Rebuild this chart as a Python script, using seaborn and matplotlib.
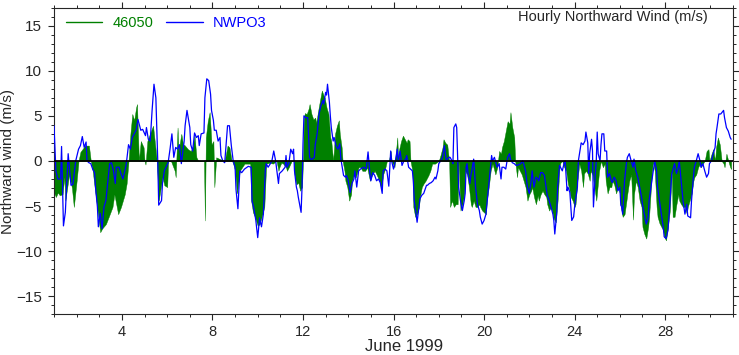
import numpy as np
import pandas as pd
import matplotlib
matplotlib.use("Agg")
import matplotlib.pyplot as plt
from matplotlib.ticker import MultipleLocator
import seaborn as sns

# hours since 1 June 1999 00:00 and northward wind (m/s)
nwpo3_hours = [0, 2, 4, 7, 8, 10, 12, 15, 18, 20, 23, 26, 28, 30, 32, 34, 35, 37, 39, 41, 43, 44, 46, 47, 49, 51, 53, 55, 59, 61,
               63, 65, 66, 69, 71, 73, 76, 77, 79, 81, 83, 87, 89, 92, 94, 97, 98, 100, 102, 104, 106, 108, 110, 111, 114, 115,
               117, 121, 123, 125, 127, 129, 131, 133, 135, 138, 139, 141, 144, 145, 147, 149, 151, 153, 154, 156, 159, 160, 162,
               164, 166, 167, 169, 170, 172, 174, 176, 177, 179, 181, 183, 184, 186, 188, 190, 192, 193, 195, 197, 199, 202, 206,
               209, 210, 212, 214, 216, 218, 220, 222, 224, 225, 227, 230, 231, 233, 235, 238, 239, 242, 245,
               246, 247, 249, 251, 253, 254, 255, 257, 258, 259, 261, 262, 263, 264, 265, 267, 269, 270, 271, 272, 274, 276, 277,
               279, 281, 283, 285, 286, 288, 289, 290, 292, 293, 294, 296, 297, 299, 301, 303, 304, 305, 307, 309, 310, 312, 314,
               316, 318, 319, 321, 323, 325, 328, 331, 333, 335, 336, 338, 340, 342, 344, 346, 348, 349, 351, 353, 355, 357, 358,
               360, 362,
               364, 365, 367, 369, 371, 373, 374, 376, 378, 380, 381, 382, 384, 385, 387, 388, 390, 392, 395, 396, 398, 400, 402,
               404, 405, 407, 408, 410, 412, 413, 414, 416, 417, 419, 420, 422, 423, 424, 426, 427, 428, 429, 431, 433, 435, 436,
               437, 438, 439, 441, 442, 443, 445, 446, 447, 449, 451, 452, 454, 456, 458, 459, 461, 463, 464, 465, 467, 468, 470,
               472, 474, 475, 477, 479, 481, 483, 484, 486,
               488, 490, 491, 493, 495, 497, 498, 500, 502, 504, 506, 507, 509, 511, 513, 514, 516, 518, 520, 522, 523, 525, 527,
               529, 530, 531, 533, 534, 536, 537, 539, 541, 542, 544, 545, 547, 549, 551, 552, 555, 556, 558, 559, 561, 563, 564,
               566, 567, 568, 570, 571, 572, 574, 575, 576, 577, 579, 580, 581, 583, 584, 586, 587, 589, 591, 592, 594, 596, 598,
               600, 601, 602, 603, 605, 607, 608, 610, 612,
               614, 615, 617, 619, 621, 623, 624, 626, 628, 630, 631, 633, 635, 637, 639, 640, 642, 644, 646, 647, 649, 651, 653,
               655, 656, 658, 660, 662, 663, 665, 667, 669, 671, 672, 675, 676, 678, 679, 681, 683, 685, 686, 688, 690, 692, 694,
               695, 697, 699, 701, 702, 703, 705, 707, 710, 711, 713, 715, 717, 718]
nwpo3_wind = [3.9, -1.1, -2.0, -2.0, 1.6, -7.2, -5.7, 0.8, -2.7, -2.6, 0.0, 1.3, 1.7, 2.7, 1.5, 2.1, 0.0, -0.2, -0.3, -0.9, -1.3,
              -2.9, -5.1, -7.3, -5.8, -7.5, -5.1, -4.4, -0.3, -0.2, -1.1, -2.5, -0.7, -0.7, -1.4, -2.0, -0.7, 0.0, 1.8, 1.3, 2.6,
              3.4, 4.6, 3.4, 3.5, 2.8, 3.7, 2.4, 2.2, 5.6, 8.5, 7.0, 0.0, -4.9, -4.4, -2.5,
              -1.1, -0.2, 1.3, 3.0, 0.4, 1.5, 1.3, 1.8, -0.3, 2.2, 3.9, 5.6, 3.7, 1.8, 1.1, 3.1, 2.6, 2.8, 1.7, 3.0, 3.1, 7.0,
              9.1, 8.9, 7.4, 5.6, 4.5, 3.4, 3.4, 2.2, 2.6, 0.6, 0.0, -0.2, 2.6, 3.9, 3.9, 1.7, 0.0, -0.7, -3.2, -5.3, -1.1, -1.3,
              -0.9, -0.6, -0.7, -4.4, -5.3, -6.6, -8.5, -6.3, -7.3, -5.9, -1.1, -0.3, -0.7, -0.2, 0.0, 1.1, 0.0, -2.5, -1.4, -1.1,
              -0.7,
              0.6, -0.7, -0.3, 1.3, 0.8, 1.3, -1.1, -2.9, -3.3, -4.0, -5.1, -5.7, -2.9, 1.8, 5.0, 4.8, 4.8, 2.6, 0.4, 0.2, 0.2,
              0.4, 1.8, 3.0, 5.2, 6.1, 6.7, 6.3, 7.6, 7.3, 8.5, 6.5, 5.0, 3.7, 2.2, 2.6, 1.7, 1.3, 1.9, 0.4, -0.3, -1.6, -1.8,
              -1.6, -2.2, -3.5, -2.5, -2.0, -1.1, -2.9, -1.1, -0.9, -0.7, -0.9, 1.0, -1.4, -2.2, -1.3, -1.6, -2.2, -2.0, -2.4,
              -3.6, -1.1, -0.9, -1.1, -2.8, 1.1, 0.0, -0.9, 0.0,
              1.3, 0.0, 1.1, -0.5, 0.0, 0.2, 0.6, -0.7, -0.9, -1.1, -2.2, -4.4, -5.9, -6.8, -5.1, -4.2, -3.8, -3.6, -2.7, -2.7,
              -2.5, -2.4, -2.2, -1.8, -2.0, -1.1, -0.3, 0.0, 0.4, 1.1, 1.7, 0.0, 0.2, 0.4, 0.4, 0.0, -0.3, 3.7, 4.1, 3.7, 0.4,
              -2.9, -4.4, -5.5, -4.4, -3.6, -0.7, -0.3, -1.4, -2.5, -1.6, -1.1, 0.2, -1.4, -2.9, -4.8, -5.5, -6.2, -7.0, -6.6,
              -5.9, -4.8, -2.5, -0.3, 0.6, 0.0, 0.4, 0.0, -0.7, -0.3, -2.0, -0.7, -0.7, -0.9, 0.4, 0.8, 0.2, -0.2,
              -0.3, -0.5, -0.5, -0.4, -0.3, 0.0, -0.3, -1.1, -2.9, -3.6, -2.2, -1.1, -2.9, -1.8, -2.0, -2.2, -1.3, -1.3, -1.6,
              -3.1, -3.8, -4.4, -5.1, -5.9, -6.6, -8.1, -5.9, -2.9, -0.5, -0.7, -1.1, -0.2, 0.0, -3.3, -2.9, -3.5, -6.6, -6.2,
              -5.1, -2.9, 0.0, 1.3, 2.0, 1.8, 2.2, 3.2, 2.0, -1.4, 0.8, 2.4, 1.1, -5.1, -1.4, 0.0, 3.2, 0.8, 0.0, 1.8, 3.0, 3.0,
              1.1, 1.1, -1.8, -1.4, -2.2, -2.4, -1.8, -2.2, -3.3, -2.9, -4.9, -5.1, -5.9, -2.2, -0.2, 0.4, 0.8, 0.0,
              -0.7, 0.2, -1.1, -1.8, -2.9, -4.0, -4.8, -5.9, -7.0, -6.3, -4.4, -2.9, -1.4, 0.0, -1.1, -2.9, -4.4, -5.9, -7.3,
              -8.4, -8.6, -7.7, -4.8, -1.4, -1.1, -0.3, -1.4, -0.7, 0.0, -2.2, -4.4, -5.9, -4.8, -6.1, -6.3, -4.4, -1.8, -0.7,
              0.0, 0.8, 0.0, -0.7, -0.3, -1.1, -1.8, -1.4, -0.3, 0.0, 0.8, 1.5, 3.0, 3.7, 5.2, 5.2, 5.6, 4.8, 3.7, 3.3, 2.6, 2.4]

b46050_hours = [0, 2, 4, 6, 9, 11, 12, 16, 19, 21, 24, 26, 28, 33, 37, 39, 41, 44, 47, 49, 51, 55, 58, 62, 64, 68, 71, 75, 77,
                79, 81, 83, 85, 87, 88, 90, 92, 95, 96, 97, 99, 102, 105, 107, 109, 111, 115,
                117, 120, 121, 124, 128, 129, 131, 132, 135, 137, 138, 142, 145, 147, 149, 151, 153, 157, 159, 160, 161, 163,
                165, 166, 167, 169, 170, 172, 176, 181, 184, 186, 188, 190, 192, 194, 197, 202, 208, 209, 211, 213, 216, 218,
                221, 223, 225, 229, 232, 236, 238, 239, 241, 243,
                246, 247, 249, 252, 254, 255, 257, 259, 261, 263, 264, 265, 266, 268, 270, 271, 273, 275, 277, 278, 280, 282,
                284, 286, 287, 289, 291, 293, 294, 296, 298, 300, 302, 303, 305, 306, 308, 309, 311, 313, 315, 316, 318, 320,
                323, 325, 327, 330, 332, 335, 337, 340, 342, 345, 347, 349, 351, 353, 355, 357, 358, 361,
                364, 365, 366, 368, 370, 372, 374, 375, 377, 378, 380, 381, 383, 385, 387, 388, 390, 392, 394, 396, 397, 399,
                401, 404, 408, 410, 412, 413, 415, 417, 418, 419, 420, 422, 424, 426, 428, 429, 431, 433, 435, 436, 438, 440,
                442, 443, 445, 447, 449, 451, 452, 454, 456, 458, 459, 461, 463, 465, 467, 468, 470, 472, 474, 475, 477, 479,
                481, 483, 484,
                486, 488, 489, 491, 492, 494, 496, 498, 500, 502, 504, 506, 507, 509, 511, 513, 514, 516, 518, 520, 522, 523,
                525, 527, 529, 530, 532, 534, 536, 537, 539, 541, 543, 545, 546, 548, 550, 552, 553, 555, 557, 559, 561, 562,
                564, 566, 568, 569, 571, 573, 575, 577, 578, 580, 582, 584, 585, 587, 589, 591, 592, 594, 596, 598, 600, 601,
                603, 605, 607, 608, 610, 612,
                614, 615, 617, 619, 621, 623, 624, 626, 628, 630, 631, 633, 635, 637, 639, 640, 642, 644, 646, 647, 649, 651,
                653, 655, 656, 658, 660, 662, 663, 665, 667, 669, 671, 672, 674, 676, 678, 679, 681, 683, 685, 686, 688, 690,
                692, 694, 695, 697, 699, 701, 702, 704, 706, 708, 710, 711, 713, 715, 717, 718]
b46050_wind = [-3.5, -4.0, -3.5, -3.8, -3.7, -1.8, -4.4, -1.5, -3.0, -5.1, -2.2, 0.0, 1.0, 1.7, 1.7, 0.0, -1.1, -3.7, -6.2, -7.9,
               -7.5, -7.0, -6.2, -5.1, -3.7, -5.9, -5.1, -3.7, -2.5, 0.0, 3.0, 5.2, 4.5, 5.9, 6.3, 0.0, 2.2, 1.5, 0.0, -0.4, 2.2,
               3.1, 3.9, 2.0, 0.0, -4.4, -1.8,
               -2.7, -2.9, 0.0, 0.0, -1.1, -1.8, 3.7, 1.1, 3.0, 1.7, 1.8, 1.3, 1.1, 1.5, 2.8, 0.4, 0.0, 0.0, 0.0, -6.6, 2.6, 4.4,
               5.4, 3.7, 1.8, 2.2, -2.9, 0.4, 0.2, 0.0, 1.7, 1.5, 0.2, -0.3, -1.1, -3.6, -1.1, -0.3, -0.3, -4.4, -5.7, -6.2, -7.2,
               -7.0, -5.9, -5.1, -0.3, -0.2, -0.3, 0.0, -1.1, -0.7, -0.2, -0.3,
               -0.7, -1.1, -0.7, 0.0, 0.0, -1.5, -2.6, -2.4, -3.3, -2.9, 0.0, 4.8, 5.3, 5.2, 5.8, 6.3, 5.2, 4.6, 4.8, 4.2, 5.5,
               6.7, 7.8, 7.2, 7.0, 5.9, 5.2, 2.6, 2.2, 0.0, 3.0, 3.9, 4.5, 3.0, 1.5, 0.0, -1.1, -2.2, -2.9, -4.4, -3.7, -2.2,
               -1.5, -1.8, -0.7, -0.7, -1.1, -1.1, -0.7, -2.2, -1.6, -1.1, -1.5, -2.2, -3.1, -1.5, -0.9, 0.0, 0.0, 1.1, 0.0, -0.7,
               2.6, 0.0, 1.3, 2.2, 2.8, 2.4, 2.0, 2.4, 2.2, 0.0, -1.1, -5.1, -6.2, -5.9, -5.1, -4.0, -2.9, -2.5, -2.2, -1.8, -1.6,
               -1.1, -0.3, -0.3, 0.0, 0.7, 1.5, 2.4, 2.0, 1.8, 0.8, 0.0, -5.1, -4.4, -5.1, -4.8, -4.8, 0.0, -5.5, -4.8, -3.7,
               -1.1, -1.5, -2.9, -4.8, -5.1, -4.4, -5.1, -5.1, -4.8, -5.1, -5.5, -5.7, -5.9, -4.4, -2.9, -1.1, -0.3, -1.1, -1.5,
               -0.7, 1.1, 0.8, 1.5, 2.2, 3.3, 4.4, 4.1, 5.4,
               3.7, 2.6, 0.0, -1.8, -0.7, -1.1, -1.5, -2.2, -2.9, -4.4, -3.7, -3.3, -2.9, -4.0, -4.8, -3.8, -4.4, -3.7, -3.3,
               -3.7, -4.0, -4.8, -5.5, -5.1, -5.9, -6.4, -6.8, -4.4, -0.7, -0.2, 0.0, -0.7, -1.1, -2.6, -2.9, -4.0, -4.4, -5.1,
               -4.8, -2.2, -0.3, -1.1, -2.9, -1.4, -1.1, -1.4, -2.2, -1.1, -1.5, -2.9, -4.4, -2.2, -1.1, 0.0, -0.7, -0.3, -2.2,
               -3.6, -2.9, -2.9, -2.2, -2.6, -3.6, -2.9, -3.6, -5.1, -6.2, -5.9, -4.4, -3.6, -2.2, -1.5,
               -6.5, -3.7, -2.2, -2.9, -4.4, -5.1, -7.3, -8.1, -8.6, -7.3, -6.2, -2.9, 0.0, -1.1, -5.1, -6.2, -6.9, -7.3, -7.7,
               -8.4, -8.8, -7.3, -5.5, -1.1, -6.2, -6.2, -4.8, -3.7, -4.4, -4.8, -5.1, -5.1, -5.9, -5.1, -4.4, -3.7, -2.2, -1.8,
               -1.5, -0.7, -0.3, -0.7, -0.3, 0.0, 1.1, 1.3, 0.0, 0.7, 1.3, 0.0, 1.5, 2.6, 1.8, 0.0, -0.3, -0.7, 0.8, 0.0, -0.7,
               -0.9]

series_names = ["46050", "NWPO3"]
series_colors = ["#008000", "#0000ff"]
day_ticks = [4, 8, 12, 16, 20, 24, 28]
wind_ticks = [-15, -10, -5, 0, 5, 10, 15]

nwpo3 = pd.DataFrame({"day": 1 + np.array(nwpo3_hours) / 24.0, "wind": nwpo3_wind})
buoy = pd.DataFrame({"day": 1 + np.array(b46050_hours) / 24.0, "wind": b46050_wind})

sns.set_style("ticks")
plt.rcParams['font.family'] = ['Liberation Sans', 'DejaVu Sans']

fig = plt.figure(figsize=(7.39, 3.55), dpi=100)
ax = fig.add_axes([0.0731, 0.1146, 0.9188, 0.8642])

ax.fill_between(buoy["day"], 0, buoy["wind"], color=series_colors[0], linewidth=0.3, zorder=2)
sns.lineplot(data=nwpo3, x="day", y="wind", color=series_colors[1], linewidth=0.9,
             estimator=None, sort=False, ax=ax, zorder=3)
ax.axhline(0, color="black", linewidth=1.3, zorder=4)

# legend drawn as proxy lines
h1, = ax.plot([], [], color=series_colors[0], linewidth=1.0)
h2, = ax.plot([], [], color=series_colors[1], linewidth=1.0)
leg = ax.legend([h1, h2], series_names, loc="upper left", ncol=2, frameon=False,
                bbox_to_anchor=(0.0, 1.01), fontsize=10.5, handlelength=2.5,
                handletextpad=0.7, columnspacing=0.9, borderaxespad=0.4)
for txt, c in zip(leg.get_texts(), series_colors):
    txt.set_color(c)

ax.set_xlim(1, 31)
ax.set_ylim(-17, 17)
ax.set_xticks(day_ticks)
ax.set_yticks(wind_ticks)
ax.xaxis.set_minor_locator(MultipleLocator(1))
ax.yaxis.set_minor_locator(MultipleLocator(1))
ax.tick_params(which="major", direction="out", length=4.3, width=0.8, top=True, right=True,
               labeltop=False, labelright=False, labelsize=11)
ax.tick_params(axis="x", which="major", pad=3.5, labelsize=10.5)
ax.tick_params(axis="y", which="major", pad=4.5)
ax.tick_params(which="minor", direction="out", length=2.5, width=0.7, top=True, right=True)
for s in ax.spines.values():
    s.set_visible(True)
    s.set_linewidth(0.8)
ax.set_xlabel("")
ax.set_ylabel("")

fig.text(0.547, 0.003, "June 1999", ha="center", va="bottom", fontsize=12)
fig.text(0.011, 0.545, "Northward wind (m/s)", rotation=90, ha="center", va="center", fontsize=11)
fig.text(0.958, 0.953, "Hourly Northward Wind (m/s)", ha="right", va="center", fontsize=10.5)

fig.savefig("out.png", dpi=100)
